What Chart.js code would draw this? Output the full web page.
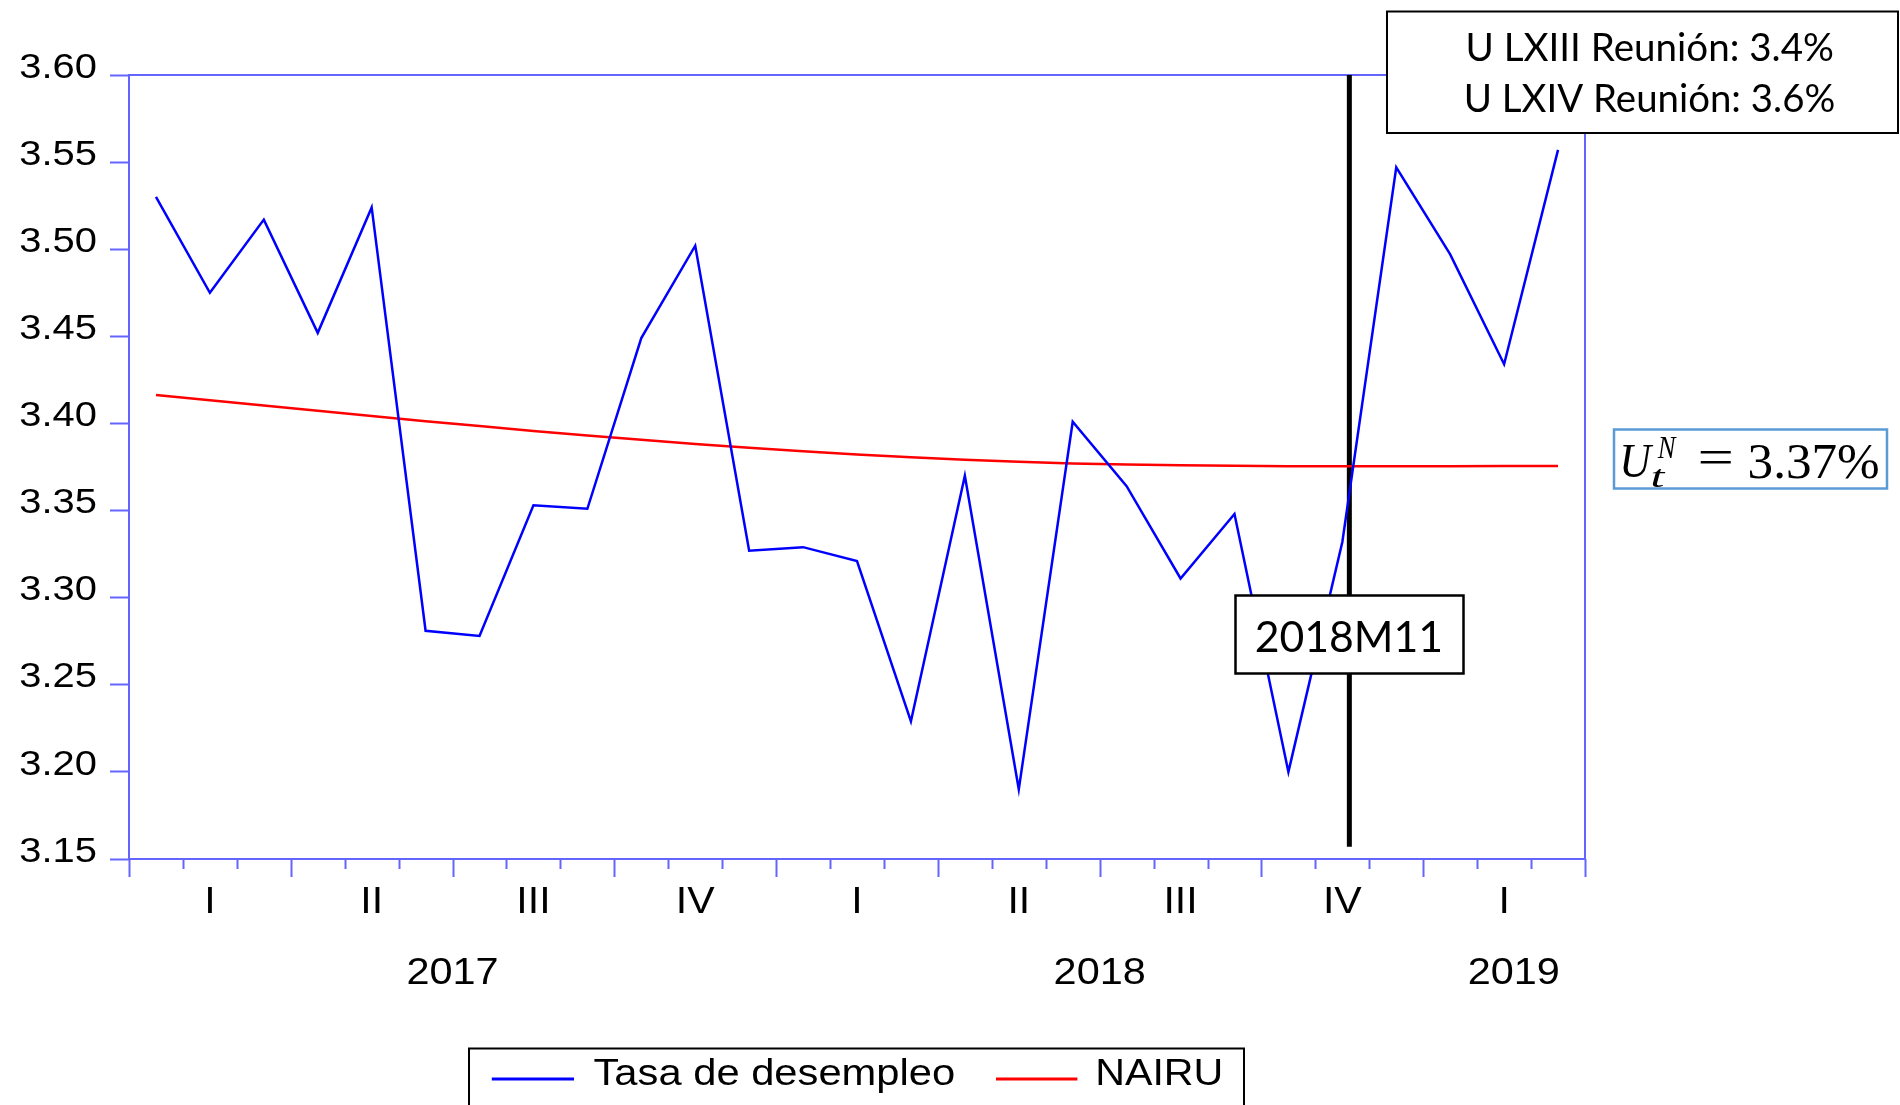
<!DOCTYPE html>
<html>
<head>
<meta charset="utf-8">
<title>Tasa de desempleo y NAIRU</title>
<script src="https://cdn.jsdelivr.net/npm/chart.js@4.4.1/dist/chart.umd.min.js"></script>
<style>
  html, body { margin: 0; padding: 0; background: #fff; }
  #wrap { width: 1900px; height: 1105px; }
</style>
</head>
<body>
<div id="wrap"><canvas id="nairuChart" width="1900" height="1105"></canvas></div>
<script>
// monthly series, 2017M01 .. 2019M03
const months = [
  '2017M01', '2017M02', '2017M03', '2017M04', '2017M05', '2017M06',
  '2017M07', '2017M08', '2017M09', '2017M10', '2017M11', '2017M12',
  '2018M01', '2018M02', '2018M03', '2018M04', '2018M05', '2018M06',
  '2018M07', '2018M08', '2018M09', '2018M10', '2018M11', '2018M12',
  '2019M01', '2019M02', '2019M03'
];
const unemployment = [
  3.530, 3.475, 3.517, 3.452, 3.524, 3.281,
  3.278, 3.353, 3.351, 3.449, 3.502, 3.327,
  3.329, 3.321, 3.229, 3.370, 3.190, 3.401,
  3.364, 3.311, 3.348, 3.200, 3.332, 3.547,
  3.497, 3.434, 3.557
];
const nairu = [
  3.4163, 3.4133, 3.4103, 3.4073, 3.4043, 3.4013,
  3.3985, 3.3957, 3.3931, 3.3906, 3.3882, 3.3860,
  3.3840, 3.3822, 3.3806, 3.3792, 3.3780, 3.3770,
  3.3764, 3.3760, 3.3757, 3.3755, 3.3755, 3.3755,
  3.3755, 3.3756, 3.3756
];
const seriesNames = ['Tasa de desempleo', 'NAIRU'];
const quarterLabels = ['I', 'II', 'III', 'IV', 'I', 'II', 'III', 'IV', 'I'];
const yearLabels = ['2017', '2018', '2019'];
const yMin = 3.15;
const yMax = 3.60;
const yStep = 0.05;
const markerMonth = '2018M11';
const meetingNotes = ['U LXIII Reunión: 3.4%', 'U LXIV Reunión: 3.6%'];
const nairuNote = '3.37%';

const axisColor = '#6464ff';
const sansFont = "'Liberation Sans', Arial, sans-serif";
const calibriLike = "Lato, 'Open Sans', sans-serif";
const serifFont = "'Liberation Serif', 'Times New Roman', serif";

// draw text with a horizontal stretch factor
function stretchText(ctx, text, x, y, font, sx, align) {
  ctx.save();
  ctx.font = font;
  ctx.textAlign = align || 'left';
  ctx.textBaseline = 'alphabetic';
  ctx.translate(x, y);
  ctx.scale(sx, 1);
  ctx.fillText(text, 0, 0);
  ctx.restore();
}

// fit the ink of a text between x0 and x1
function fitText(ctx, text, x0, x1, y, font) {
  ctx.save();
  ctx.font = font;
  ctx.textAlign = 'left';
  const m = ctx.measureText(text);
  const ink = m.actualBoundingBoxLeft + m.actualBoundingBoxRight;
  const sx = (x1 - x0) / ink;
  ctx.restore();
  stretchText(ctx, text, x0 + m.actualBoundingBoxLeft * sx, y, font, sx, 'left');
}

function box(ctx, x0, y0, x1, y1, color, width) {
  ctx.save();
  ctx.fillStyle = '#fff';
  ctx.fillRect(x0, y0, x1 - x0, y1 - y0);
  ctx.strokeStyle = color;
  ctx.lineWidth = width;
  ctx.strokeRect(x0, y0, x1 - x0, y1 - y0);
  ctx.restore();
}

const decorations = {
  id: 'decorations',
  beforeDatasetsDraw(chart) {
    const ctx = chart.ctx;
    const a = chart.chartArea;
    const xs = chart.scales.x;
    const ys = chart.scales.y;
    ctx.save();
    ctx.strokeStyle = axisColor;
    ctx.lineWidth = 2;
    ctx.strokeRect(a.left, a.top, a.right - a.left, a.bottom - a.top);
    // month ticks, longer at quarter boundaries
    for (let b = 0; b <= months.length; b++) {
      const px = Math.round(xs.getPixelForValue(b - 0.5)) + 0.5;
      const len = b % 3 === 0 ? 18 : 10;
      ctx.beginPath();
      ctx.moveTo(px, a.bottom);
      ctx.lineTo(px, a.bottom + len);
      ctx.stroke();
    }
    ctx.restore();

    ctx.save();
    ctx.fillStyle = '#000';
    // y tick labels, from the axis' own ticks (slightly wide, sitting above the mark)
    ys.ticks.forEach(t => {
      const py = ys.getPixelForValue(t.value);
      stretchText(ctx, t.value.toFixed(2), a.left - 32, py + 2.7, `35px ${sansFont}`, 1.14, 'right');
    });
    // quarter and year labels
    quarterLabels.forEach((q, i) => {
      const px = xs.getPixelForValue(3 * i + 1);
      stretchText(ctx, q, px, 912.5, `36px ${sansFont}`, 1.14, 'center');
    });
    const yearNudge = [0, 0, 0.18];
    yearLabels.forEach((yr, i) => {
      const idx = months.map((m, k) => m.startsWith(yr) ? k : -1).filter(k => k >= 0);
      const mid = (idx[0] + idx[idx.length - 1]) / 2 + yearNudge[i];
      stretchText(ctx, yr, xs.getPixelForValue(mid), 984, `36px ${sansFont}`, 1.15, 'center');
    });
    ctx.restore();
  },
  afterDatasetsDraw(chart) {
    const ctx = chart.ctx;
    ctx.save();
    ctx.fillStyle = '#000';
    box(ctx, 1235.5, 595.5, 1463.5, 673.5, '#000', 2.5);
    fitText(ctx, markerMonth, 1256.7, 1440.2, 651.7, `43px ${calibriLike}`);
    ctx.restore();
  },
  afterDraw(chart) {
    const ctx = chart.ctx;
    ctx.save();
    ctx.fillStyle = '#000';

    // meeting notes box
    box(ctx, 1387, 11.5, 1898, 133, '#000', 2);
    fitText(ctx, meetingNotes[0], 1468.5, 1832.5, 61.4, `38px ${calibriLike}`);
    fitText(ctx, meetingNotes[1], 1466.8, 1833.7, 112.2, `38px ${calibriLike}`);

    // U_t^N = 3.37%
    box(ctx, 1614, 429.5, 1887, 488.5, '#5b9bd5', 2.5);
    fitText(ctx, 'U', 1623, 1654, 477, `italic 48px ${serifFont}`);
    fitText(ctx, 'N', 1657, 1677, 457.5, `italic 32px ${serifFont}`);
    fitText(ctx, 't', 1652, 1666, 486.5, `italic 32px ${serifFont}`);
    fitText(ctx, '=', 1700, 1731, 474, `50px ${serifFont}`);
    fitText(ctx, nairuNote, 1749.6, 1878, 477.7, `50px ${serifFont}`);

    // legend
    box(ctx, 469, 1048.5, 1244, 1115, '#000', 2);
    const ds = chart.data.datasets;
    const sample = [[491.8, 574], [996, 1077.4]];
    const textPos = [[593.5, 954], [1097.5, 1221]];
    for (let i = 0; i < 2; i++) {
      ctx.strokeStyle = ds[i].borderColor;
      ctx.lineWidth = 3;
      ctx.beginPath();
      ctx.moveTo(sample[i][0], 1079);
      ctx.lineTo(sample[i][1], 1079);
      ctx.stroke();
      fitText(ctx, ds[i].label, textPos[i][0], textPos[i][1], 1085, `36px ${sansFont}`);
    }
    ctx.restore();
  }
};

const markerIdx = months.indexOf(markerMonth) + 0.13;

new Chart(document.getElementById('nairuChart').getContext('2d'), {
  type: 'line',
  data: {
    datasets: [
      {
        label: seriesNames[0],
        data: unemployment.map((v, i) => ({ x: i, y: v })),
        borderColor: '#0000ff',
        borderWidth: 2.5,
        pointRadius: 0,
        tension: 0,
        order: 1
      },
      {
        label: seriesNames[1],
        data: nairu.map((v, i) => ({ x: i, y: v })),
        borderColor: '#ff0000',
        borderWidth: 2.5,
        pointRadius: 0,
        tension: 0,
        order: 2
      },
      {
        label: markerMonth,
        data: [{ x: markerIdx, y: yMax }, { x: markerIdx, y: 3.157 }],
        borderColor: '#000',
        borderWidth: 5,
        pointRadius: 0,
        order: 3
      }
    ]
  },
  options: {
    responsive: false,
    animation: false,
    layout: { padding: { left: 0, top: 75, right: 315, bottom: 246 } },
    plugins: {
      legend: { display: false },
      tooltip: { enabled: false }
    },
    scales: {
      x: {
        type: 'linear',
        display: false,
        min: -0.5,
        max: months.length - 0.5
      },
      y: {
        min: yMin,
        max: yMax,
        ticks: {
          stepSize: yStep,
          display: false
        },
        grid: {
          drawOnChartArea: false,
          drawTicks: true,
          tickLength: 19,
          tickColor: axisColor,
          tickWidth: 2
        },
        border: { display: false },
        afterFit: s => { s.width = 129; }
      }
    }
  },
  plugins: [decorations]
});
</script>
</body>
</html>
